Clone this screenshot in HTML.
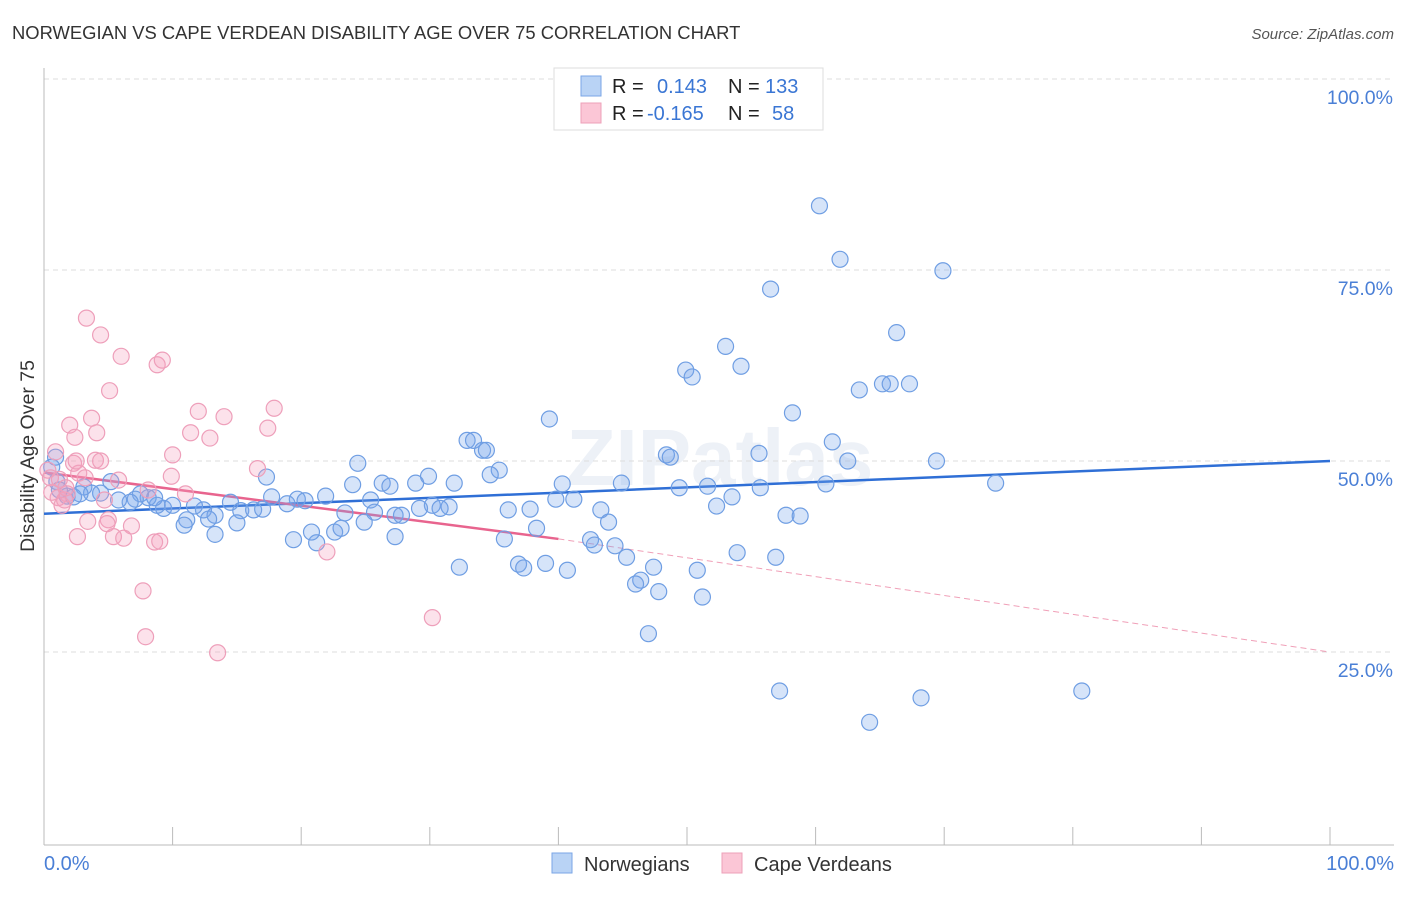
<!DOCTYPE html>
<html><head><meta charset="utf-8"><style>
body{margin:0;background:#fff;font-family:"Liberation Sans",sans-serif;}
svg text{font-family:"Liberation Sans",sans-serif;}
</style></head><body>
<svg id="chart" width="1406" height="892" xmlns="http://www.w3.org/2000/svg">
<text x="12" y="39" font-size="18.4" fill="#333">NORWEGIAN VS CAPE VERDEAN DISABILITY AGE OVER 75 CORRELATION CHART</text>
<text x="1394" y="39" font-size="15" fill="#555" font-style="italic" text-anchor="end">Source: ZipAtlas.com</text>
<text x="720" y="485" font-size="80" fill="#edf1f7" text-anchor="middle" font-weight="bold">ZIPatlas</text>
<g id="grid"></g>
<g id="axes"></g>
<g id="trend"></g>
<g id="pts"></g>
<text transform="translate(34,456) rotate(-90)" font-size="19.5" fill="#333" text-anchor="middle">Disability Age Over 75</text>
<text x="44" y="870" font-size="20" fill="#4a7fd6">0.0%</text>
<text x="1394" y="870" font-size="20" fill="#4a7fd6" text-anchor="end">100.0%</text>
<g>
<rect x="554" y="68" width="269" height="62" fill="#fff" stroke="#ddd"/>
<rect x="581" y="76" width="20" height="20" fill="#b9d3f5" stroke="#7aa6e6"/>
<rect x="581" y="103" width="20" height="20" fill="#fbc6d6" stroke="#eea0b8"/>
<text x="612" y="93" font-size="20" fill="#222">R =</text>
<text x="657" y="93" font-size="20" fill="#3a76d4">0.143</text>
<text x="728" y="93" font-size="20" fill="#222">N =</text>
<text x="765" y="93" font-size="20" fill="#3a76d4">133</text>
<text x="612" y="120" font-size="20" fill="#222">R =</text>
<text x="647" y="120" font-size="20" fill="#3a76d4">-0.165</text>
<text x="728" y="120" font-size="20" fill="#222">N =</text>
<text x="772" y="120" font-size="20" fill="#3a76d4">58</text>
</g>
<g>
<rect x="552" y="853" width="20" height="20" fill="#b9d3f5" stroke="#7aa6e6"/>
<text x="584" y="871" font-size="20" fill="#333">Norwegians</text></g>
<g>
<rect x="722" y="853" width="20" height="20" fill="#fbc6d6" stroke="#eea0b8"/>
<text x="754" y="871" font-size="20" fill="#333">Cape Verdeans</text></g>
</svg>
<script>
const blueX=[60.3,61.9,69.9,56.5,66.3,53.0,54.2,49.9,50.4,63.4,65.2,65.8,67.3,58.2,39.3,32.9,33.4,34.1,34.4,61.3,48.4,48.7,55.6,62.5,69.4,24.4,35.4,34.7,17.3,29.9,26.3,26.9,28.9,31.9,40.3,44.9,49.4,51.6,55.7,60.8,74.0,24.0,17.7,19.7,21.9,25.4,20.3,18.9,39.8,41.2,53.5,52.3,37.8,36.1,43.3,43.9,25.7,23.4,30.2,31.5,30.8,29.2,27.3,27.8,24.9,14.5,15.3,16.3,17.0,12.4,13.3,11.7,11.1,10.9,12.8,15.0,9.3,10.0,8.8,8.1,7.5,7.1,6.7,5.8,5.2,4.4,3.7,3.1,2.3,1.8,1.0,0.6,0.9,2.8,8.6,57.7,58.8,13.3,19.4,21.2,20.8,22.6,23.1,27.3,35.8,38.3,42.5,42.8,44.4,45.3,53.9,56.9,36.9,37.3,39.0,40.7,47.4,50.8,46.4,46.0,47.8,51.2,32.3,47.0,57.2,64.2,68.2,80.7,1.2];
const blueY=[83.4,76.4,74.9,72.5,66.8,65.0,62.4,61.9,61.0,59.3,60.1,60.1,60.1,56.3,55.5,52.7,52.7,51.4,51.4,52.5,50.8,50.5,51.0,50.0,50.0,49.7,48.8,48.2,47.9,48.0,47.1,46.7,47.1,47.1,47.0,47.1,46.5,46.7,46.5,47.0,47.1,46.9,45.3,45.0,45.4,44.9,44.8,44.4,45.0,45.0,45.3,44.1,43.7,43.6,43.6,42.0,43.3,43.2,44.2,44.0,43.8,43.8,42.9,42.9,42.0,44.6,43.5,43.6,43.7,43.6,42.9,44.1,42.3,41.6,42.4,41.9,43.8,44.2,44.2,45.2,45.7,45.0,44.6,44.9,47.3,45.8,45.8,46.6,45.3,45.4,47.3,49.2,50.5,45.7,45.2,42.9,42.8,40.4,39.7,39.3,40.7,40.7,41.2,40.1,39.8,41.2,39.7,39.0,38.9,37.4,38.0,37.4,36.5,36.0,36.6,35.7,36.1,35.7,34.4,33.9,32.9,32.2,36.1,27.4,19.9,15.8,19.0,19.9,46.2];
const pinkX=[3.3,4.4,6.0,8.8,9.2,5.1,12.0,14.0,17.9,3.7,2.0,4.1,2.4,11.4,12.9,17.4,0.9,4.0,4.4,2.3,2.7,2.5,10.0,16.6,5.8,8.1,9.9,11.0,0.3,0.5,0.6,1.1,1.6,1.8,1.4,4.7,5.0,4.9,3.4,6.8,5.4,6.2,2.6,8.6,9.0,22.0,7.7,7.9,13.5,30.2,1.2,1.7,3.2];
const pinkY=[68.7,66.5,63.7,62.6,63.2,59.2,56.5,55.8,56.9,55.6,54.7,53.7,53.1,53.7,53.0,54.3,51.2,50.1,50.0,49.7,48.4,50.0,50.8,49.0,47.5,46.2,48.0,45.7,48.8,47.8,45.9,45.2,44.9,45.7,44.2,44.9,42.3,41.8,42.1,41.5,40.1,39.9,40.1,39.4,39.5,38.1,33.0,27.0,24.9,29.5,47.6,46.5,47.8];
const yTicks=[100,75,50,25];
const yTickLabels=["100.0%","75.0%","50.0%","25.0%"];
const xTicks=[0,10,20,30,40,50,60,70,80,90,100];
const blueTrend=[[0,43.1],[100,50.0]];
const pinkTrendSolid=[[0,48.5],[40,39.8]];
const pinkTrendDash=[[40,39.8],[100,25.0]];

const NS="http://www.w3.org/2000/svg";
const X=v=>44+v*12.86, Y=v=>843-v*7.64;
function mk(t,a,p){const e=document.createElementNS(NS,t);for(const k in a)e.setAttribute(k,a[k]);document.getElementById(p).appendChild(e);return e;}
yTicks.forEach((t,i)=>{
 const g=mk('line',{x1:44,x2:1394,y1:Y(t),y2:Y(t),stroke:'#ddd','stroke-dasharray':'5,4'},'grid');
 
 
 const l=mk('text',{x:1393,y:Y(t)+25,'font-size':19.5,fill:'#4a7fd6','text-anchor':'end'},'grid');
 l.textContent=yTickLabels[i];
 
 
});
const ax=mk('line',{x1:44,x2:44,y1:68,y2:845,stroke:'#bbb'},'axes');


const bx=mk('line',{x1:44,x2:1394,y1:845,y2:845,stroke:'#bbb'},'axes');


xTicks.forEach(t=>{const e=mk('line',{x1:X(t),x2:X(t),y1:827,y2:845,stroke:'#bbb'},'axes');
 
 });
function drawPts(xs,ys,fill,stroke,name){xs.forEach((x,i)=>{const c=mk('circle',{cx:X(x),cy:Y(ys[i]),r:8,fill:fill,stroke:stroke,'stroke-width':1.2},'pts');
 
 });}
drawPts(blueX,blueY,'rgba(120,165,235,0.3)','#6f9ee3','norwegian-point');
drawPts(pinkX,pinkY,'rgba(245,160,190,0.3)','#ee9fba','cape-verdean-point');
function line(s,col,w,dash,name){const e=mk('line',{x1:X(s[0][0]),y1:Y(s[0][1]),x2:X(s[1][0]),y2:Y(s[1][1]),stroke:col,'stroke-width':w},'trend');
 if(dash)e.setAttribute('stroke-dasharray',dash);
 
 }
line(blueTrend,'#2f6fd6',2.5,null,'norwegian-trendline');
line(pinkTrendSolid,'#e8648e',2.5,null,'cape-verdean-trendline');
line(pinkTrendDash,'#f0a0b8',1,'6,4','cape-verdean-trendline-extension');
</script>
</body></html>
